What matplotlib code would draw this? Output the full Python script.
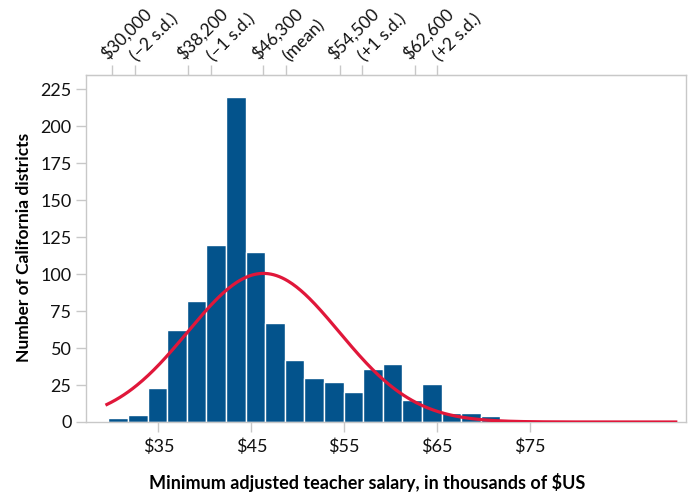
import numpy as np
import matplotlib
matplotlib.use('Agg')
import matplotlib.pyplot as plt

plt.rcParams['font.family'] = ['Lato', 'DejaVu Sans']

# histogram bins (thousands of $)
bin_start = 29.62
bin_width = 2.11
counts = [3, 5, 23, 62, 82, 120, 220, 115, 67, 42, 30, 27, 20, 36, 39, 15, 26, 6, 6, 4]

# fitted normal curve
mean_sal = 46.3
sd_sal = 8.15
curve_peak = 100.5
curve_from, curve_to = 29.45, 90.7

# top axis marks
sd_pos = [30.0, 38.2, 46.3, 54.5, 62.6]
sd_val_labels = ['$30,000', '$38,200', '$46,300', '$54,500', '$62,600']
sd_txt_labels = ['(\u22122 s.d.)', '(\u22121 s.d.)', '(mean)', '(+1 s.d.)', '(+2 s.d.)']
sd_offset = 2.44

xticks = [35, 45, 55, 65, 75]
yticks = list(range(0, 226, 25))

bar_col = '#03538C'
curve_col = '#E0173A'
grey = '#c8c8c8'

fig = plt.figure(figsize=(6.92, 4.95), dpi=100)
ax = fig.add_axes([0.1243, 0.1475, 0.8670, 0.7010])

lefts = bin_start + bin_width * np.arange(len(counts))
ax.bar(lefts, counts, width=bin_width, align='edge', color=bar_col,
       edgecolor='white', linewidth=1.0, zorder=2)

xs = np.linspace(curve_from, curve_to, 400)
ys = curve_peak * np.exp(-0.5 * ((xs - mean_sal) / sd_sal) ** 2)
ax.plot(xs, ys, color=curve_col, lw=2.3, zorder=3)

ax.set_xlim(27.2, 91.8)
ax.set_ylim(0, 234.7)
ax.set_xticks(xticks)
ax.set_xticklabels(['$%d' % t for t in xticks])
ax.set_yticks(yticks)
for s in ax.spines.values():
    s.set_color(grey)
    s.set_linewidth(1.0)
ax.tick_params(axis='both', colors=grey, labelcolor='#111111', labelsize=13,
               length=7, width=1.0)
ax.tick_params(axis='x', pad=5)

# top axis with mean / s.d. marks (two ticks per mark, one per label line)
top = ax.secondary_xaxis('top')
top.spines['top'].set_color(grey)
tpos = []
for p in sd_pos:
    tpos += [p, p + sd_offset]
top.set_xticks(tpos)
top.set_xticklabels([])
top.tick_params(colors=grey, length=7, width=1.0)

for p, a, b in zip(sd_pos, sd_val_labels, sd_txt_labels):
    ax.annotate(a, xy=(p, 1), xycoords=('data', 'axes fraction'),
                xytext=(-5, 15), textcoords='offset pixels',
                rotation=45, rotation_mode='anchor', ha='left', va='baseline',
                fontsize=12.5, color='#111111', annotation_clip=False)
    ax.annotate(b, xy=(p + sd_offset, 1), xycoords=('data', 'axes fraction'),
                xytext=(3, 13), textcoords='offset pixels',
                rotation=45, rotation_mode='anchor', ha='left', va='baseline',
                fontsize=12.5, color='#111111', annotation_clip=False)

fig.text(0.531, 0.012, 'Minimum adjusted teacher salary, in thousands of $US',
         ha='center', va='baseline', fontsize=13, fontweight='bold')
fig.text(0.034, 0.5, 'Number of California districts', rotation=90,
         ha='center', va='center', fontsize=12.5, fontweight='bold')

fig.savefig('out.png', dpi=100)
